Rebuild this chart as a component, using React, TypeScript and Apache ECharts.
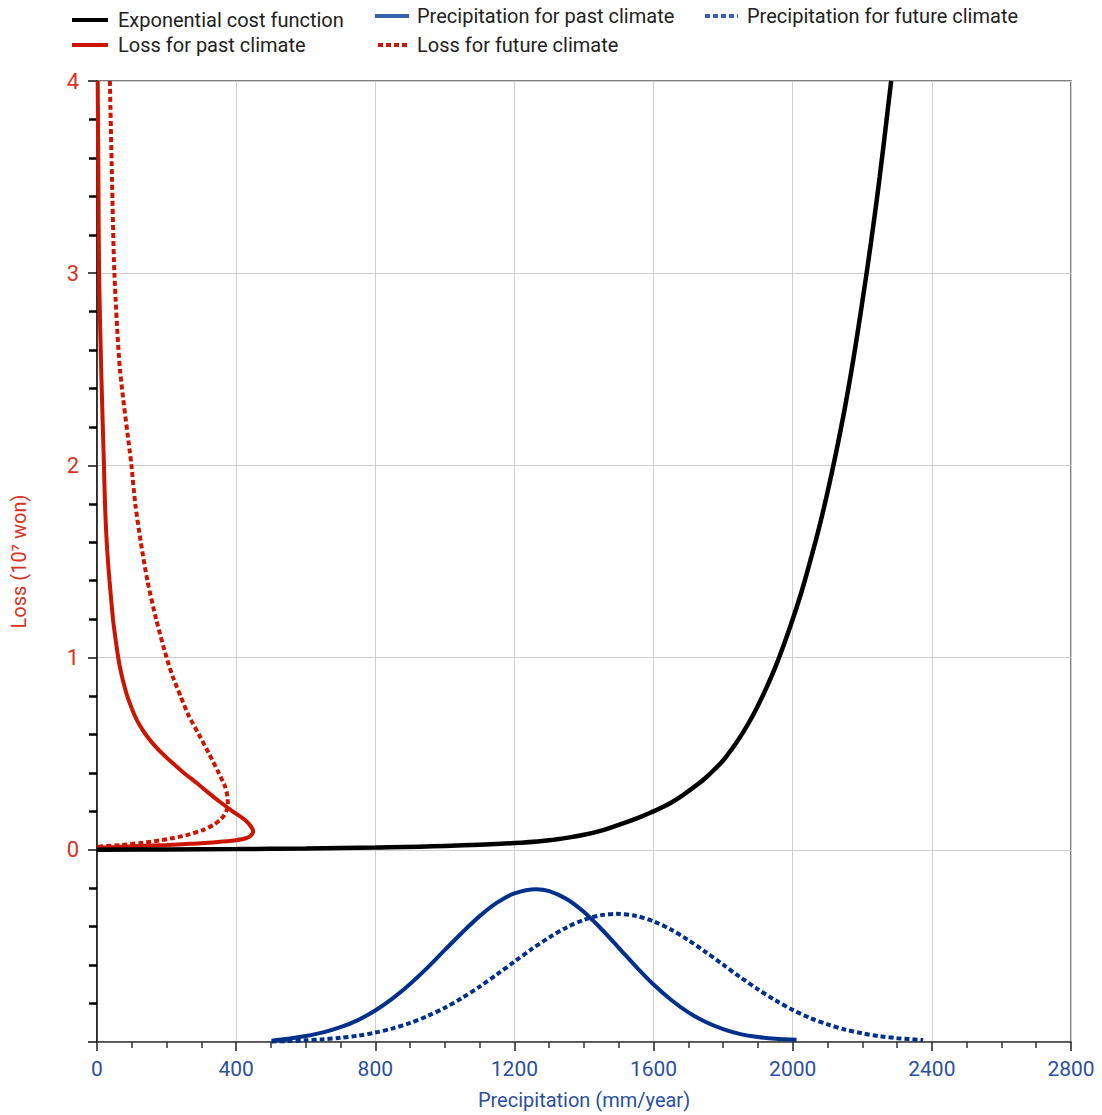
import React, { useEffect, useRef } from "react";
import * as echarts from "echarts";

// Exponential cost function: precipitation (mm/year) vs loss (10^7 won)
const costX = [0, 200, 400, 600, 800, 1000, 1200, 1300, 1350, 1400, 1450, 1500, 1550, 1600, 1625, 1650, 1675, 1700, 1725, 1750, 1775, 1800, 1825, 1850, 1875, 1900, 1925, 1950, 1975, 2000, 2025, 2050, 2075, 2100, 2125, 2150, 2175, 2200, 2225, 2250, 2283];
const costY = [0, 0.002, 0.004, 0.007, 0.012, 0.02, 0.035, 0.05, 0.062, 0.078, 0.1, 0.13, 0.162, 0.2, 0.221, 0.245, 0.273, 0.305, 0.338, 0.375, 0.418, 0.465, 0.524, 0.59, 0.665, 0.75, 0.845, 0.95, 1.07, 1.2, 1.34, 1.5, 1.67, 1.86, 2.07, 2.3, 2.56, 2.85, 3.16, 3.5, 4.0];

// Loss distribution for past climate (density drawn along x, loss on y)
const lossPastX = [2, 4, 6, 12, 20, 23, 28, 36, 46, 53, 61, 66, 72, 79, 87, 97, 108, 122, 140, 162, 188, 218, 250, 285, 318, 353, 390, 425, 443, 449, 443, 428, 400, 363, 310, 267, 200, 124, 60, 9, 0];
const lossPastY = [4.0, 3.5, 3.0, 2.5, 2.0, 1.8, 1.6, 1.4, 1.2, 1.1, 1.0, 0.95, 0.9, 0.85, 0.8, 0.75, 0.7, 0.65, 0.6, 0.55, 0.5, 0.45, 0.4, 0.35, 0.3, 0.25, 0.2, 0.156, 0.12, 0.095, 0.075, 0.06, 0.05, 0.043, 0.035, 0.031, 0.025, 0.02, 0.015, 0.012, 0.01];

// Loss distribution for future climate
const lossFutX = [37, 43, 50, 66, 99, 110, 126, 145, 170, 200, 218, 240, 263, 293, 322, 350, 368, 375, 376, 373, 366, 354, 335, 306, 265, 219, 165, 124, 70, 9, 0];
const lossFutY = [4.0, 3.5, 3.0, 2.5, 2.0, 1.8, 1.6, 1.4, 1.2, 1.0, 0.9, 0.8, 0.7, 0.6, 0.5, 0.4, 0.33, 0.277, 0.24, 0.208, 0.18, 0.156, 0.13, 0.104, 0.08, 0.061, 0.045, 0.035, 0.025, 0.017, 0.012];

// Precipitation distribution for past climate (plotted below zero)
const precPastX = [502, 550, 600, 650, 700, 750, 800, 850, 900, 950, 1000, 1050, 1100, 1150, 1200, 1262, 1300, 1350, 1400, 1450, 1500, 1550, 1600, 1650, 1700, 1750, 1800, 1850, 1900, 1950, 2011];
const precPastY = [-0.993, -0.983, -0.969, -0.95, -0.923, -0.886, -0.836, -0.773, -0.698, -0.613, -0.521, -0.43, -0.345, -0.275, -0.227, -0.205, -0.215, -0.256, -0.324, -0.412, -0.51, -0.609, -0.701, -0.78, -0.846, -0.896, -0.933, -0.959, -0.974, -0.983, -0.988];

// Precipitation distribution for future climate
const precFutX = [502, 550, 600, 650, 700, 750, 800, 850, 900, 950, 1000, 1050, 1100, 1150, 1200, 1250, 1300, 1350, 1400, 1450, 1494, 1550, 1600, 1650, 1700, 1750, 1800, 1850, 1900, 1950, 2000, 2050, 2100, 2150, 2200, 2250, 2300, 2375];
const precFutY = [-0.997, -0.995, -0.991, -0.986, -0.978, -0.967, -0.951, -0.929, -0.901, -0.865, -0.822, -0.77, -0.712, -0.648, -0.582, -0.516, -0.456, -0.404, -0.364, -0.34, -0.333, -0.344, -0.372, -0.415, -0.47, -0.532, -0.598, -0.664, -0.726, -0.783, -0.833, -0.875, -0.908, -0.935, -0.955, -0.97, -0.98, -0.99];

const xTicks = [0, 400, 800, 1200, 1600, 2000, 2400, 2800];
const yTicks = [-1, 0, 1, 2, 3, 4];

const names = [
  "Exponential cost function",
  "Loss for past climate",
  "Loss for future climate",
  "Precipitation for past climate",
  "Precipitation for future climate",
];

const zip = (xs: number[], ys: number[]) => xs.map((x, i) => [x, ys[i]]);

const RED = "#cc1500";
const BLUE = "#00308a";
const LEG_BLUE = "#3a62aa";
const FONT = "Roboto";
const DOT = [5, 3];

export default function App() {
  const ref = useRef<HTMLDivElement>(null);
  useEffect(() => {
    document.body.style.margin = "0";
    const chart = echarts.init(ref.current!, null, { renderer: "svg" });

    const legItem = (name: string, x1: number, x2: number, y: number, tx: number, color: string, dotted: boolean) => [
      {
        type: "line",
        shape: { x1, y1: y, x2, y2: y },
        style: { stroke: color, lineWidth: 4, lineDash: dotted ? DOT : null },
      },
      {
        type: "text",
        x: tx,
        y,
        style: {
          text: name,
          fontFamily: FONT,
          fontSize: 20,
          fill: "#222",
          verticalAlign: "middle",
          align: "left",
        },
      },
    ];

    const graphic = [
      ...legItem(names[0], 72, 108, 20, 118, "#000", false),
      ...legItem(names[1], 72, 108, 45, 118, RED, false),
      ...legItem(names[3], 375, 409, 16, 417, LEG_BLUE, false),
      ...legItem(names[2], 378, 409, 45, 417, RED, true),
      ...legItem(names[4], 705, 738, 16, 747, LEG_BLUE, true),
    ];

    const tickStyle = { color: "#222", width: 1.5 };
    const option: any = {
      animation: false,
      backgroundColor: "#fff",
      graphic,
      grid: {
        left: 97,
        right: 31,
        top: 81,
        bottom: 73,
        show: true,
        borderColor: "#555",
        borderWidth: 1.5,
        backgroundColor: "transparent",
      },
      xAxis: [
        {
          type: "value",
          min: xTicks[0],
          max: xTicks[xTicks.length - 1],
          interval: 400,
          position: "bottom",
          name: "Precipitation (mm/year)",
          nameLocation: "middle",
          nameGap: 48,
          nameTextStyle: { fontFamily: FONT, fontSize: 20, color: "#2b4f9e" },
          axisLine: { show: true, onZero: false, lineStyle: { color: "#444", width: 1.5 } },
          axisTick: { show: true, inside: false, length: 9, lineStyle: tickStyle },
          axisLabel: {
            fontFamily: FONT,
            fontSize: 21,
            color: "#2b4f9e",
            margin: 16,
            formatter: (v: number) => String(v),
          },
          splitLine: { show: true, lineStyle: { color: "#cfcfcf", width: 1 } },
          minorTick: { show: true, splitNumber: 4, length: 6, lineStyle: { color: "#333", width: 1.5 } },
          z: 3,
        },
      ],
      yAxis: [
        {
          type: "value",
          min: yTicks[0],
          max: yTicks[yTicks.length - 1],
          interval: 1,
          position: "left",
          name: "Loss (10\u2077 won)",
          nameLocation: "middle",
          nameGap: 68,
          nameTextStyle: { fontFamily: FONT, fontSize: 20, color: "#d9321f" },
          axisLine: { show: true, onZero: false, lineStyle: { color: "#111", width: 1.5 } },
          axisTick: { show: true, inside: false, length: 9, lineStyle: { color: "#111", width: 1.5 } },
          axisLabel: {
            fontFamily: FONT,
            fontSize: 22,
            color: "#d9321f",
            margin: 18,
            formatter: (v: number) => (v < 0 ? "" : String(v)),
          },
          splitLine: { show: true, lineStyle: { color: "#cfcfcf", width: 1 } },
          minorTick: { show: true, splitNumber: 5, length: 8, lineStyle: { color: "#000", width: 2.5 } },
          z: 3,
        },
      ],
      series: [
        {
          name: names[3],
          type: "line",
          data: zip(precPastX, precPastY),
          smooth: 0.3,
          symbol: "none",
          lineStyle: { color: BLUE, width: 4 },
          itemStyle: { color: BLUE },
        },
        {
          name: names[4],
          type: "line",
          data: zip(precFutX, precFutY),
          smooth: 0.3,
          symbol: "none",
          lineStyle: { color: BLUE, width: 4, type: DOT },
          itemStyle: { color: BLUE },
        },
        {
          name: names[2],
          type: "line",
          data: zip(lossFutX, lossFutY),
          smooth: 0.25,
          symbol: "none",
          lineStyle: { color: RED, width: 4, type: DOT },
          itemStyle: { color: RED },
        },
        {
          name: names[1],
          type: "line",
          data: zip(lossPastX, lossPastY),
          smooth: 0.25,
          symbol: "none",
          lineStyle: { color: RED, width: 4 },
          itemStyle: { color: RED },
        },
        {
          name: names[0],
          type: "line",
          data: zip(costX, costY),
          smooth: 0.4,
          symbol: "none",
          lineStyle: { color: "#000", width: 4.5 },
          itemStyle: { color: "#000" },
        },
      ],
    };
    chart.setOption(option);
    return () => chart.dispose();
  }, []);
  return <div ref={ref} style={{ width: 1102, height: 1115 }} />;
}
